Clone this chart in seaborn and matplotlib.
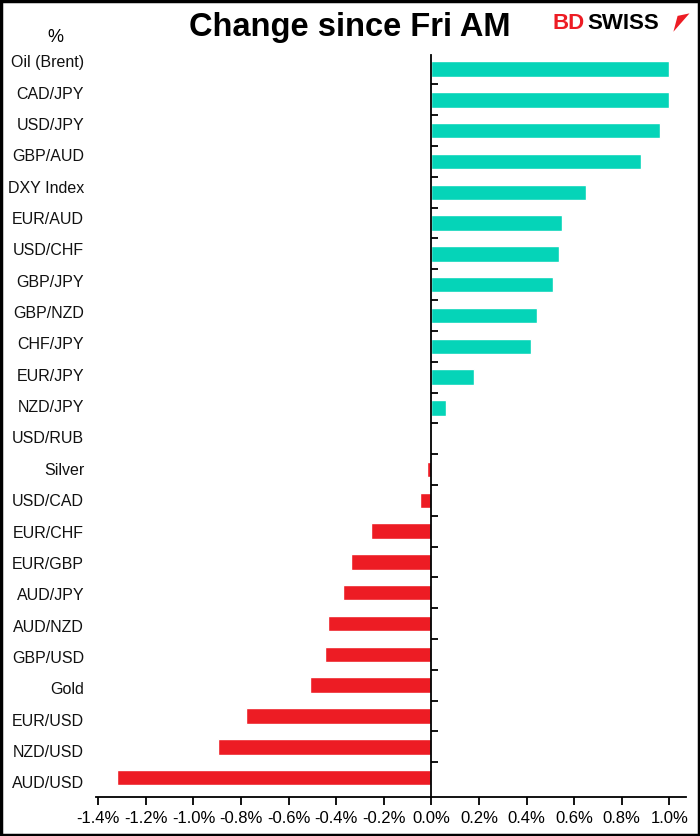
import matplotlib
matplotlib.use("Agg")
import matplotlib.pyplot as plt
import seaborn as sns
import pandas as pd
from matplotlib.patches import Rectangle, Polygon

# values (% change since Fri AM)
labels = ['Oil (Brent)', 'CAD/JPY', 'USD/JPY', 'GBP/AUD', 'DXY Index', 'EUR/AUD',
          'USD/CHF', 'GBP/JPY', 'GBP/NZD', 'CHF/JPY', 'EUR/JPY', 'NZD/JPY',
          'USD/RUB', 'Silver', 'USD/CAD', 'EUR/CHF', 'EUR/GBP', 'AUD/JPY',
          'AUD/NZD', 'GBP/USD', 'Gold', 'EUR/USD', 'NZD/USD', 'AUD/USD']
changes = [1.00, 1.00, 0.96, 0.88, 0.65, 0.55,
           0.535, 0.51, 0.445, 0.42, 0.177, 0.063,
           0.0, -0.02, -0.05, -0.253, -0.337, -0.37,
           -0.434, -0.446, -0.51, -0.78, -0.895, -1.32]
xticks = [-1.4, -1.2, -1.0, -0.8, -0.6, -0.4, -0.2, 0.0, 0.2, 0.4, 0.6, 0.8, 1.0]

teal = '#05D4B8'
red = '#ED1C24'

df = pd.DataFrame({'label': labels, 'change': changes})
df['color'] = [teal if v >= 0 else red for v in df['change']]

sns.set_style('white')
plt.rcParams['font.family'] = ['Liberation Sans', 'DejaVu Sans']
plt.rcParams['text.color'] = 'black'
plt.rcParams['xtick.color'] = 'black'
plt.rcParams['ytick.color'] = 'black'

fig = plt.figure(figsize=(7, 8.36), dpi=100)
ax = fig.add_axes([0.137, 0.047, 0.843, 0.887])

sns.barplot(data=df, x='change', y='label', hue='label', palette=list(df['color']),
            legend=False, width=0.5, saturation=1, ax=ax, orient='h')

ax.set_xlim(-1.41, 1.07)
ax.set_ylim(23.62, -0.45)
ax.set_xlabel('')
ax.set_ylabel('')

# y axis sits at zero with ticks between categories
ax.spines['left'].set_position(('data', 0))
ax.spines['top'].set_visible(False)
ax.spines['right'].set_visible(False)
for s in ['left', 'bottom']:
    ax.spines[s].set_color('black')
    ax.spines[s].set_linewidth(1.3)
ax.set_yticks([i + 0.5 for i in range(len(labels) - 1)])
ax.tick_params(axis='y', direction='in', length=5, width=1.3, color='black',
               labelleft=False, left=True)
# category labels sit on the left edge, spaced slightly wider than the bars
n = len(labels)
for i, lab in enumerate(labels):
    ax.text(-0.02, i - 0.2 + 0.4 * i / (n - 1), lab, transform=ax.get_yaxis_transform(),
            ha='right', va='center', fontsize=11.5, color='#111111')

ax.set_xticks(xticks)
ax.set_xticklabels([f'{v:.1f}%' for v in xticks], fontsize=12, color='black')
ax.tick_params(axis='x', direction='out', length=6, width=1.3, color='black',
               bottom=True, pad=4)

fig.text(0.5, 0.967, 'Change since Fri AM', ha='center', va='center',
         fontsize=23.5, fontweight='bold')
fig.text(0.079, 0.955, '%', ha='center', va='center', fontsize=13)

# logo
fig.text(0.79, 0.972, 'BD', ha='left', va='center', fontsize=16,
         fontweight='bold', color=red)
fig.text(0.839, 0.972, 'SWISS', ha='left', va='center', fontsize=16,
         fontweight='bold', color='black')
fig.patches.append(Polygon([[0.962, 0.962], [0.985, 0.984], [0.968, 0.981]],
                           closed=True, transform=fig.transFigure,
                           facecolor=red, edgecolor='none'))

fig.patches.append(Rectangle((0.0015, 0.0015), 0.997, 0.997, transform=fig.transFigure,
                             fill=False, edgecolor='black', linewidth=2.5))

fig.savefig('out.png', dpi=100)
